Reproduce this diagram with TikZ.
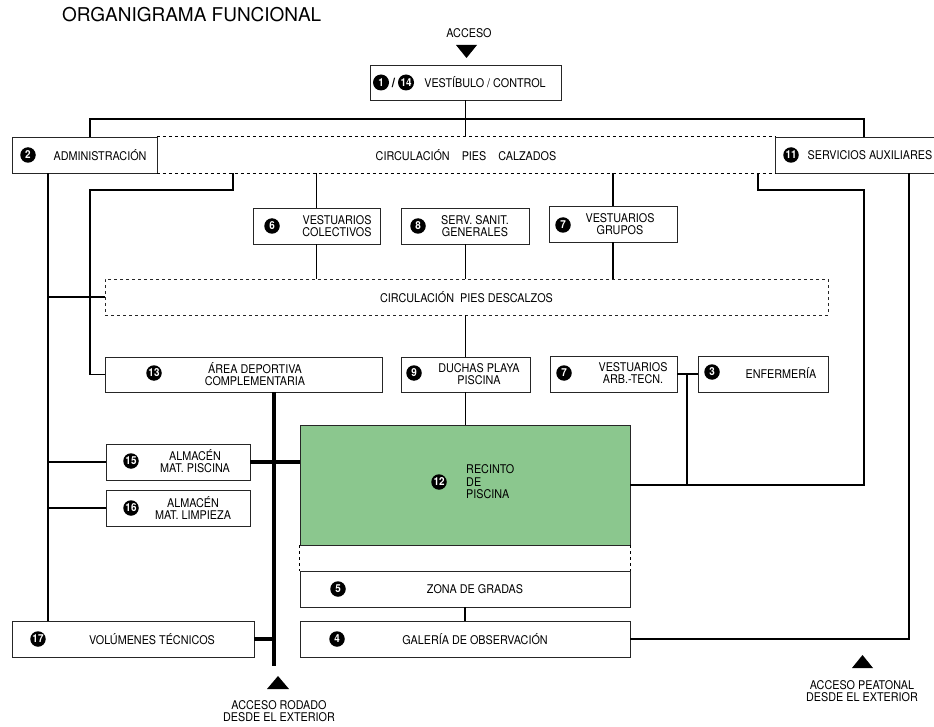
\documentclass[tikz,border=0pt]{standalone}
\usepackage{fontspec}
\setmainfont{TeX Gyre Heros}[FakeStretch=0.9]
\newfontfamily\titlefont{TeX Gyre Heros}
\usetikzlibrary{calc}
\definecolor{poolgreen}{RGB}{139,199,142}

\tikzset{
  box/.style={draw=black!85, line width=0.9pt, fill=white, inner sep=0pt},
  conn/.style={line width=1.7pt},
  thinconn/.style={line width=0.9pt},
  heavy/.style={line width=4.5pt},
  num/.style={circle, fill=black, text=white, inner sep=0pt, minimum size=15.5pt,
    font=\fontsize{11}{11}\selectfont\bfseries},
  lbl/.style={font=\fontsize{12}{12.5}\selectfont, align=center, inner sep=0pt},
}

\begin{document}
\begin{tikzpicture}[x=1pt, y=-1pt]
    \useasboundingbox (0,0) rectangle (934,727);

    \node[anchor=west, inner sep=0pt, font=\titlefont\fontsize{19}{19}\selectfont] (title) at (62,15) {ORGANIGRAMA FUNCIONAL};

    % junction points of the connectors
    \coordinate (tl) at (90,119);
    \coordinate (tr) at (864,119);
    \coordinate (ja) at (48,0);
    \coordinate (b1) at (233,190);
    \coordinate (b2) at (90,190);
    \coordinate (c1) at (758,190);
    \coordinate (c2) at (864,190);
    \coordinate (d1) at (687,0);
    \coordinate (e1) at (909,0);
    \coordinate (hb) at (274,666);

    % boxes
    \node[box, minimum width=191, minimum height=35] (vest) at (465.5,82.5) {};
    \node[box, minimum width=145, minimum height=36] (adm) at (84.5,155) {};
    \node[box, minimum width=160, minimum height=36] (serv) at (855,155) {};
    \node[lbl, minimum width=618, minimum height=36] (calz) at (466,155) {CIRCULACIÓN\quad PIES\quad CALZADOS};
    \node[box, minimum width=127, minimum height=36] (colect) at (316.5,226) {};
    \node[box, minimum width=128, minimum height=36] (sanit) at (465,226) {};
    \node[box, minimum width=128, minimum height=36] (grupos) at (613,224) {};
    \node[lbl, draw=black!85, line width=0.9pt, dashed, minimum width=723, minimum height=36] (desc) at (466.5,297) {CIRCULACIÓN\enspace PIES DESCALZOS};
    \node[box, minimum width=277, minimum height=35] (area) at (243.5,374.5) {};
    \node[box, minimum width=129, minimum height=35] (duchas) at (465.5,374.5) {};
    \node[box, minimum width=127, minimum height=36] (arb) at (613.5,374) {};
    \node[box, minimum width=130, minimum height=36] (enf) at (763,374) {};
    \node[box, minimum width=144, minimum height=36] (alm15) at (178,462) {};
    \node[box, minimum width=144, minimum height=36] (alm16) at (178,508) {};
    \node[box, fill=poolgreen, minimum width=330, minimum height=120] (pool) at (465,485) {};
    \node[box, minimum width=330, minimum height=36] (gradas) at (465,589) {};
    \node[box, minimum width=330, minimum height=36] (gal) at (465,639) {};
    \node[box, minimum width=242, minimum height=36] (vol) at (133,639) {};

    % circulation strips
    \draw[dashed, line width=0.9pt] (calz.north west) -- (calz.north east);
    \draw[dashed, line width=0.9pt] (calz.south west) -- (calz.south east);
    \draw[dashed, line width=0.9pt] (pool.south west) -- (gradas.north west);
    \draw[dashed, line width=0.9pt] (pool.south east) -- (gradas.north east);

    % connectors
    \draw[conn] (vest.south) -- (vest.south |- calz.north);
    \draw[conn] (adm.north -| tl) -- (tl) -- (tr) -- (serv.north -| tr);
    \draw[conn] (adm.south -| ja) -- (vol.north -| ja);
    \draw[conn] (ja |- desc.west) -- (desc.west);
    \draw[conn] (ja |- alm15.west) -- (alm15.west);
    \draw[conn] (ja |- alm16.west) -- (alm16.west);
    \draw[conn] (calz.south -| b1) -- (b1) -- (b2) -- (b2 |- area.west) -- (area.west);
    \draw[thinconn] (calz.south -| colect.north) -- (colect.north);
    \draw[thinconn] (colect.south) -- (colect.south |- desc.north);
    \draw[thinconn] (sanit.south) -- (sanit.south |- desc.north);
    \draw[conn] (calz.south -| grupos.north) -- (grupos.north);
    \draw[conn] (grupos.south) -- (grupos.south |- desc.north);
    \draw[conn] (desc.south -| duchas.north) -- (duchas.north);
    \draw[thinconn] (duchas.south) -- (duchas.south |- pool.north);
    \draw[conn] (calz.south -| c1) -- (c1) -- (c2) -- (c2 |- pool.east) -- (pool.east);
    \draw[conn] (arb.east) -- (enf.west);
    \draw[conn] (d1 |- arb.east) -- (d1 |- pool.east);
    \draw[conn] (serv.south -| e1) -- (e1 |- gal.east) -- (gal.east);
    \draw[conn] (gradas.south) -- (gal.north);
    \draw[heavy] (area.south -| hb) -- (hb);
    \draw[heavy] (alm15.east) -- (alm15.east -| pool.west);
    \draw[line width=4pt] (vol.east) -- (vol.east -| hb);

    % numbers
    \node[num, minimum size=16pt] (n1) at (381,82.5) {1};
    \node[num, minimum size=16pt] (n14) at (406,82.5) {14};
    \node[inner sep=0pt, font=\fontsize{13}{13}\selectfont\bfseries] (slash) at (393.5,82.5) {/};
    \node[num] (n2) at (28,155) {2};
    \node[num] (n11) at (791,155) {11};
    \node[num] (n6) at (272,226) {6};
    \node[num] (n8) at (418,226) {8};
    \node[num] (n7a) at (563,225) {7};
    \node[num] (n13) at (154,373) {13};
    \node[num] (n9) at (414,373) {9};
    \node[num] (n7b) at (564,373) {7};
    \node[num] (n3) at (712,372) {3};
    \node[num] (n15) at (131,461) {15};
    \node[num] (n16) at (131,508) {16};
    \node[num] (n12) at (439,482) {12};
    \node[num] (n5) at (338,589) {5};
    \node[num] (n4) at (337,639) {4};
    \node[num] (n17) at (38,639) {17};

    % texts
    \node[lbl] (tvest) at (485,82.5) {VESTÍBULO / CONTROL};
    \node[lbl] (tadm) at (100,155) {ADMINISTRACIÓN};
    \node[lbl] (tserv) at (870,155) {SERVICIOS AUXILIARES};
    \node[lbl] (tcolect) at (337,226) {VESTUARIOS\\COLECTIVOS};
    \node[lbl] (tsanit) at (475,226) {SERV. SANIT.\\GENERALES};
    \node[lbl] (tgrupos) at (620,224) {VESTUARIOS\\GRUPOS};
    \node[lbl] (tarea) at (255,374) {ÁREA DEPORTIVA\\COMPLEMENTARIA};
    \node[lbl] (tduchas) at (479,374) {DUCHAS PLAYA\\PISCINA};
    \node[lbl] (tarb) at (633,373) {VESTUARIOS\\ARB.-TECN.};
    \node[lbl] (tenf) at (781,373) {ENFERMERÍA};
    \node[lbl] (talm15) at (195,461) {ALMACÉN\\MAT. PISCINA};
    \node[lbl] (talm16) at (193,508) {ALMACÉN\\MAT. LIMPIEZA};
    \node[lbl, align=left, anchor=west] (tpool) at (466,482) {RECINTO\\DE\\PISCINA};
    \node[lbl] (tgradas) at (475,589) {ZONA DE GRADAS};
    \node[lbl] (tgal) at (475,639) {GALERÍA DE OBSERVACIÓN};
    \node[lbl] (tvol) at (152,639) {VOLÚMENES TÉCNICOS};

    % accesses
    \node[lbl] (acc) at (469,33) {ACCESO};
    \fill (456,45) -- (477,45) -- (466.5,58) -- cycle;
    \fill (267,689) -- (289,689) -- (278,676) -- cycle;
    \node[lbl] (accrod) at (279,711) {ACCESO RODADO\\DESDE EL EXTERIOR};
    \fill (852,668) -- (873,668) -- (862.5,655) -- cycle;
    \node[lbl] (accpeat) at (862,691) {ACCESO PEATONAL\\DESDE EL EXTERIOR};
\end{tikzpicture}
\end{document}
